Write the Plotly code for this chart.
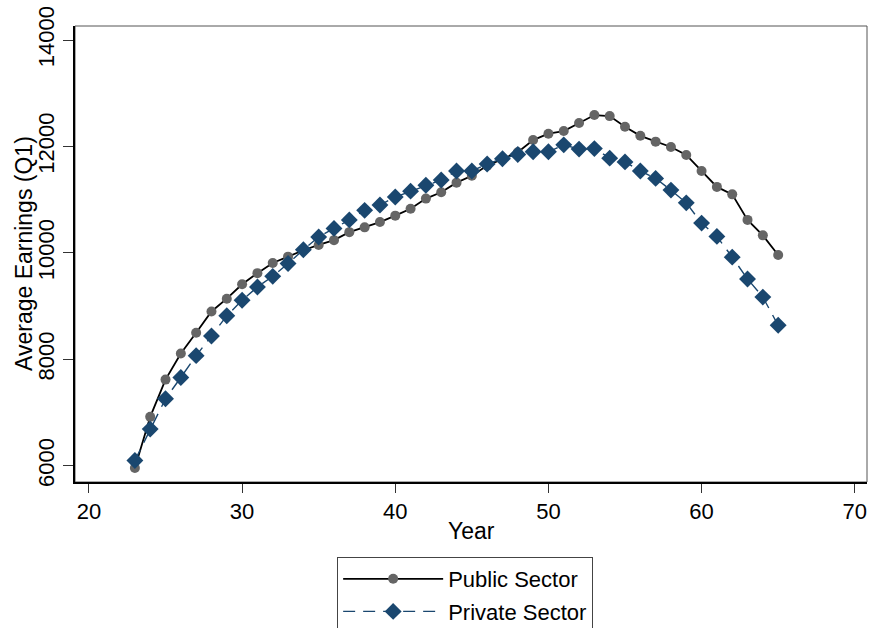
import plotly.graph_objects as go

# Age (x) and average Q1 earnings by sector
age = list(range(23, 66))
public_sector = [5960, 6920, 7620, 8110, 8500, 8900, 9140, 9410, 9620, 9810,
                 9930, 10050, 10150, 10240, 10390, 10480, 10580, 10700, 10830, 11020,
                 11140, 11320, 11450, 11640, 11760, 11890, 12120, 12240, 12290, 12440,
                 12590, 12570, 12370, 12200, 12090, 11990, 11840, 11540, 11240, 11100,
                 10620, 10330, 9960]
private_sector = [6100, 6690, 7260, 7660, 8070, 8440, 8820, 9110, 9360, 9560,
                  9800, 10060, 10300, 10460, 10620, 10800, 10900, 11050, 11160, 11270,
                  11370, 11540, 11540, 11670, 11770, 11850, 11900, 11900, 12030, 11950,
                  11960, 11780, 11710, 11540, 11400, 11180, 10940, 10560, 10310, 9920,
                  9510, 9170, 8640]

x_ticks = [20, 30, 40, 50, 60, 70]
y_ticks = [6000, 8000, 10000, 12000, 14000]
y_tick_labels = ["6000", "8000", "10000", "12000", "14000"]

FONT = "Arial, Liberation Sans, sans-serif"
NAVY = "#1a476f"
GRAY = "#656565"
TICK_SIZE = 22
TITLE_SIZE = 23

fig = go.Figure()
fig.add_trace(go.Scatter(
    x=age, y=public_sector, name="Public Sector", mode="lines+markers",
    line=dict(color="black", width=1.8),
    marker=dict(symbol="circle", size=10, color=GRAY),
    legendgroup="pub",
))
fig.add_trace(go.Scatter(
    x=age, y=private_sector, name="Private Sector", mode="lines+markers",
    line=dict(color=NAVY, width=1.4, dash="12px,8px"),
    marker=dict(symbol="diamond", size=13, color=NAVY),
    legendgroup="priv",
))

fig.update_layout(
    width=871, height=628,
    margin=dict(l=75, r=4, t=26, b=146, autoexpand=False),
    paper_bgcolor="white", plot_bgcolor="white",
    font=dict(family=FONT, size=TICK_SIZE, color="black"),
    showlegend=True,
    legend=dict(
        x=0.331, y=-0.1645, xanchor="left", yanchor="top",
        bordercolor="#444", borderwidth=1, bgcolor="white",
        font=dict(family=FONT, size=22), itemwidth=100,
        tracegroupgap=1,
    ),
    xaxis=dict(
        range=[19.09, 70.8], tickvals=x_ticks, ticks="outside", ticklen=9,
        tickcolor="#333", tickwidth=1, showgrid=False, zeroline=False,
        showline=True, linecolor="black", linewidth=2,
        tickfont=dict(family=FONT, size=TICK_SIZE),
    ),
    yaxis=dict(
        range=[5696, 14263], tickvals=y_ticks, ticktext=y_tick_labels,
        ticks="outside", ticklen=10,
        tickcolor="#333", tickwidth=1, showgrid=False, zeroline=False,
        showline=True, linecolor="black", linewidth=2, tickangle=-90,
        tickfont=dict(family=FONT, size=TICK_SIZE),
    ),
    shapes=[dict(type="rect", xref="paper", yref="paper", x0=0, y0=0, x1=1, y1=1,
                 line=dict(color="#555", width=1), layer="below")],
    annotations=[
        dict(text="Year", xref="paper", yref="paper", x=0.5, y=0,
             xanchor="center", yanchor="middle", yshift=-49, showarrow=False,
             font=dict(family=FONT, size=TITLE_SIZE)),
        dict(text="Average Earnings (Q1)", xref="paper", yref="paper", x=0, y=0.5,
             xanchor="center", yanchor="middle", xshift=-51, textangle=-90,
             showarrow=False, font=dict(family=FONT, size=TITLE_SIZE)),
    ],
)

fig.write_html("out.html")
